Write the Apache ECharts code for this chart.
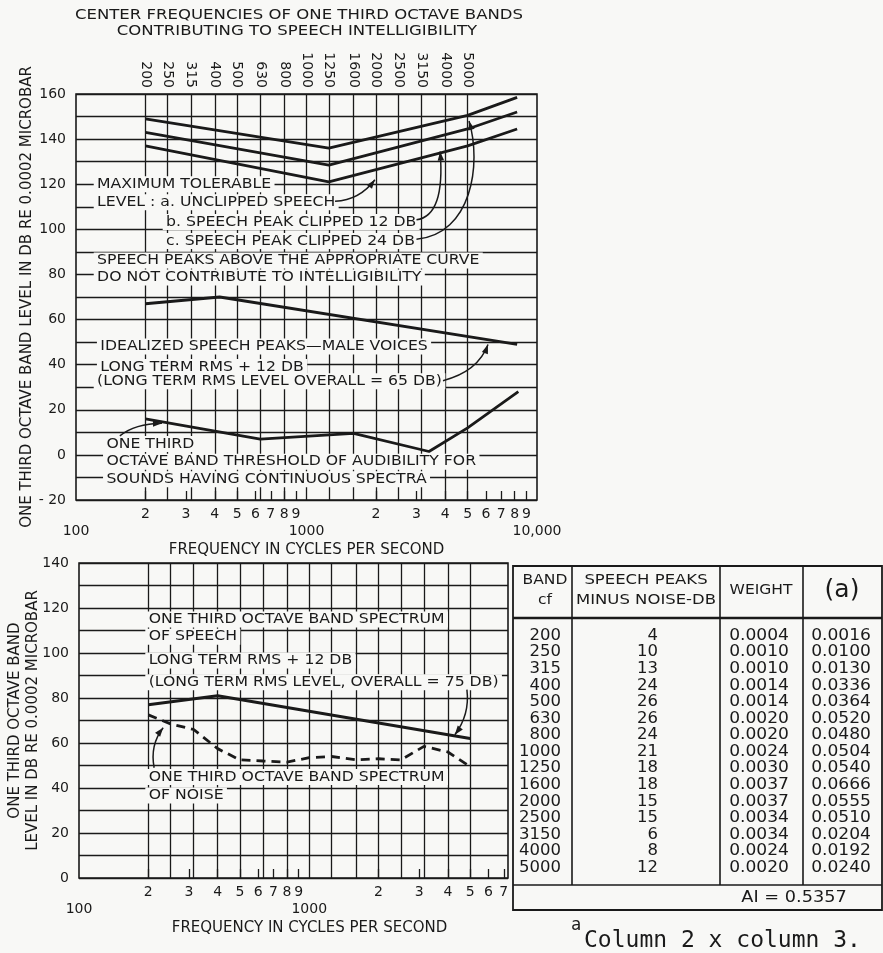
<!DOCTYPE html>
<html>
<head>
<meta charset="utf-8">
<script src="https://cdn.jsdelivr.net/npm/echarts@6/dist/echarts.min.js"></script>
<style>
html, body { margin: 0; padding: 0; background: #f8f8f6; }
#chart { width: 883px; height: 953px; }
</style>
</head>
<body>
<div id="chart"></div>
<script>
// one third octave band centres (Hz)
var bands = [200, 250, 315, 400, 500, 630, 800, 1000, 1250, 1600, 2000, 2500, 3150, 4000, 5000];
var bandLabels = ['200', '250', '315', '400', '500', '630', '800', '1000', '1250', '1600', '2000', '2500', '3150', '4000', '5000'];

// upper chart: [freq, dB]
var maxLevelA = [[200, 149], [1250, 136], [5000, 150.5], [8200, 158.5]];
var maxLevelB = [[200, 143], [1250, 128.5], [5000, 144.5], [8200, 152]];
var maxLevelC = [[200, 137], [1250, 121], [5000, 137], [8200, 144.5]];
var speechPeaksMale = [[200, 67], [420, 70], [8200, 49]];
var threshold = [[200, 16], [630, 7], [1600, 9.5], [3400, 1.5], [5000, 12], [8300, 28]];

// lower chart
var speechFreq = [200, 400, 5000];
var speechDb = [77, 81, 62];
var noiseDb = [72.5, 68.5, 66, 57.5, 52.5, 52, 51.5, 53.5, 54, 52.5, 53, 52.5, 58.5, 56, 49.5];

// table
var tableDiff = [4, 10, 13, 24, 26, 26, 24, 21, 18, 18, 15, 15, 6, 8, 12];
var tableWeight = [0.0004, 0.0010, 0.0010, 0.0014, 0.0014, 0.0020, 0.0020, 0.0024, 0.0030, 0.0037, 0.0037, 0.0034, 0.0034, 0.0024, 0.0020];
var tableProduct = [0.0016, 0.0100, 0.0130, 0.0336, 0.0364, 0.0520, 0.0480, 0.0504, 0.0540, 0.0666, 0.0555, 0.0510, 0.0204, 0.0192, 0.0240];
var aiTotal = '0.5357';

// tick marks
var minorTop = [200, 300, 400, 500, 600, 700, 800, 900, 2000, 3000, 4000, 5000, 6000, 7000, 8000, 9000];
var minorBottom = [200, 300, 400, 500, 600, 700, 800, 900, 2000, 3000, 4000, 5000, 6000, 7000];
var decadeLabels = { 100: '100', 1000: '1000', 10000: '10,000' };

var FONT = '"DejaVu Sans", sans-serif';
var INK = '#1a1a1a';
var BG = '#f8f8f6';
var WIDE = 1.12;   // lettering is wider than the font

var lg = function (f) { return Math.log10(f); };
var freqOf = function (v) { return Math.round(Math.pow(10, v)); };

function minorAxis(grid, ticks, max) {
    var vals = ticks.map(lg);
    return {
        type: 'value', gridIndex: grid, position: 'bottom', min: 2, max: max,
        axisLine: { show: false, onZero: false },
        axisTick: { show: true, inside: true, length: 9, customValues: vals, lineStyle: { color: INK, width: 1.3 } },
        axisLabel: {
            customValues: vals, margin: 7, fontSize: 14, color: INK, fontFamily: FONT,
            formatter: function (v) {
                return String(Math.round(Math.pow(10, v) / Math.pow(10, Math.floor(v + 1e-9))));
            }
        },
        splitLine: { show: false }
    };
}

function decadeAxis(grid, decades, max, namePad) {
    return {
        type: 'value', gridIndex: grid, position: 'bottom', min: 2, max: max,
        axisLine: { show: false, onZero: false },
        axisTick: { show: false },
        axisLabel: {
            customValues: decades.map(lg), margin: 24, fontSize: 14, color: INK, fontFamily: FONT,
            formatter: function (v) { return decadeLabels[freqOf(v)]; }
        },
        splitLine: { show: false },
        name: 'FREQUENCY IN CYCLES PER SECOND', nameLocation: 'middle', nameGap: 43, nameMoveOverlap: false,
        nameTextStyle: { fontSize: 15, color: INK, fontFamily: FONT, padding: [0, 0, 0, namePad] }
    };
}

function bandAxis(grid, max, showLabels) {
    var vals = bands.map(lg);
    return {
        type: 'value', gridIndex: grid, position: 'top', min: 2, max: max,
        axisLine: { show: false, onZero: false },
        axisTick: { show: false, customValues: vals },
        axisLabel: {
            show: showLabels, customValues: vals, rotate: 90, margin: 6, fontSize: 14, color: INK, fontFamily: FONT,
            formatter: function (v) { return bandLabels[bands.indexOf(freqOf(v))]; }
        },
        splitLine: { show: true, lineStyle: { color: INK, width: 1.3 } }
    };
}

function levelAxis(grid, min, max, name, gap) {
    return {
        type: 'value', gridIndex: grid, min: min, max: max, interval: 10,
        axisLine: { show: false, onZero: false },
        axisTick: { show: false },
        axisLabel: {
            margin: 10, fontSize: 14, color: INK, fontFamily: FONT,
            formatter: function (v) { return v % 20 === 0 ? (v < 0 ? '- ' + (-v) : String(v)) : ''; }
        },
        splitLine: { show: true, lineStyle: { color: INK, width: 1.3 } },
        name: name, nameLocation: 'middle', nameRotate: 90, nameGap: gap, nameMoveOverlap: false,
        nameTextStyle: { fontSize: 15, color: INK, fontFamily: FONT, lineHeight: 18 }
    };
}

function curve(name, pairs, xi, yi, dashed) {
    return {
        name: name, type: 'line', xAxisIndex: xi, yAxisIndex: yi, silent: true,
        data: pairs.map(function (p) { return [lg(p[0]), p[1]]; }),
        showSymbol: false, symbol: 'none', z: 20,
        lineStyle: { color: INK, width: 2.8, type: dashed ? [9, 6] : 'solid' }
    };
}

var bottomMax = lg(7300);

var chart = echarts.init(document.getElementById('chart'));
chart.setOption({
    backgroundColor: BG,
    animation: false,
    textStyle: { fontFamily: FONT, color: INK },
    grid: [
        { left: 76, top: 94, width: 461, height: 406, show: true, borderColor: INK, borderWidth: 1.6, backgroundColor: 'transparent' },
        { left: 79, top: 563, width: 429, height: 315, show: true, borderColor: INK, borderWidth: 1.6, backgroundColor: 'transparent' }
    ],
    xAxis: [
        minorAxis(0, minorTop, 4),
        decadeAxis(0, [100, 1000, 10000], 4, 0),
        bandAxis(0, 4, true),
        minorAxis(1, minorBottom, bottomMax),
        decadeAxis(1, [100, 1000], bottomMax, 32),
        bandAxis(1, bottomMax, false)
    ],
    yAxis: [
        levelAxis(0, -20, 160, 'ONE THIRD OCTAVE BAND LEVEL IN DB RE 0.0002 MICROBAR', 40),
        levelAxis(1, 0, 140, 'ONE THIRD OCTAVE BAND\nLEVEL IN DB RE 0.0002 MICROBAR', 37)
    ],
    series: [
        curve('a', maxLevelA, 0, 0),
        curve('b', maxLevelB, 0, 0),
        curve('c', maxLevelC, 0, 0),
        curve('speech peaks', speechPeaksMale, 0, 0),
        curve('threshold', threshold, 0, 0),
        curve('speech', speechFreq.map(function (f, i) { return [f, speechDb[i]]; }), 3, 1),
        curve('noise', bands.map(function (f, i) { return [f, noiseDb[i]]; }), 3, 1, true)
    ]
});

// annotations, placed in data coordinates
var topNotes = [
    ['MAXIMUM TOLERABLE', 123, 120],
    ['LEVEL : a. UNCLIPPED SPEECH', 123, 112],
    ['b. SPEECH PEAK CLIPPED 12 DB', 245, 103.2],
    ['c. SPEECH PEAK CLIPPED 24 DB', 245, 94.8],
    ['SPEECH PEAKS ABOVE THE APPROPRIATE CURVE', 123, 86.2],
    ['DO NOT CONTRIBUTE TO INTELLIGIBILITY', 123, 78.7],
    ['IDEALIZED SPEECH PEAKS\u2014MALE VOICES', 127, 48],
    ['LONG TERM RMS + 12 DB', 127, 39],
    ['(LONG TERM RMS LEVEL OVERALL = 65 DB)', 123, 32.6],
    ['ONE THIRD', 135, 4.8],
    ['OCTAVE BAND THRESHOLD OF AUDIBILITY FOR', 135, -3],
    ['SOUNDS HAVING CONTINUOUS SPECTRA', 135, -10.8]
];
var bottomNotes = [
    ['ONE THIRD OCTAVE BAND SPECTRUM', 200, 114.9],
    ['OF SPEECH', 200, 107.2],
    ['LONG TERM RMS + 12 DB', 200, 96.7],
    ['(LONG TERM RMS LEVEL, OVERALL = 75 DB)', 200, 87],
    ['ONE THIRD OCTAVE BAND SPECTRUM', 200, 44.9],
    ['OF NOISE', 200, 36.7]
];
var arrows = [
    [0, [[1330, 112.4], [1700, 113], [1980, 122]]],
    [0, [[3000, 104.2], [4000, 106], [3800, 134.5]]],
    [0, [[3000, 95.6], [5200, 97.8], [5770, 128.9], [5070, 148]]],
    [0, [[3910, 32.9], [5546, 36.9], [6130, 48.9]]],
    [0, [[155, 8.4], [180, 13.8], [236, 14]]],
    [1, [[4840, 83.7], [4990, 72.6], [4290, 63.7]]],
    [1, [[212, 49], [203, 59.2], [232, 66.8]]]
];

function px(grid, f, db) {
    var finder = grid === 0 ? { xAxisIndex: 0, yAxisIndex: 0 } : { xAxisIndex: 3, yAxisIndex: 1 };
    return chart.convertToPixel(finder, [lg(f), db]);
}

function label(text, x, y, font, align, bg, sx) {
    return {
        type: 'text', x: x, y: y, z: 10, silent: true, scaleX: sx || 1,
        style: {
            text: text, font: font, fill: INK,
            align: align, textAlign: align, verticalAlign: 'middle', textVerticalAlign: 'middle',
            backgroundColor: bg ? BG : null, padding: bg ? [1, 3] : 0
        }
    };
}

function arrow(grid, pts) {
    var p = pts.map(function (q) { return px(grid, q[0], q[1]); });
    var n = p.length;
    var shape = { x1: p[0][0], y1: p[0][1], x2: p[n - 1][0], y2: p[n - 1][1], cpx1: p[1][0], cpy1: p[1][1] };
    if (n === 4) { shape.cpx2 = p[2][0]; shape.cpy2 = p[2][1]; }
    var tip = p[n - 1], from = p[n - 2];
    var dx = tip[0] - from[0], dy = tip[1] - from[1];
    var d = Math.sqrt(dx * dx + dy * dy) || 1;
    dx /= d; dy /= d;
    var len = 9, w = 3.2;
    return [
        { type: 'bezierCurve', z: 30, silent: true, shape: shape, style: { stroke: INK, lineWidth: 1.5, fill: 'none' } },
        { type: 'polygon', z: 30, silent: true, shape: { points: [
            [tip[0], tip[1]],
            [tip[0] - dx * len - dy * w, tip[1] - dy * len + dx * w],
            [tip[0] - dx * len + dy * w, tip[1] - dy * len - dx * w]
        ] }, style: { fill: INK } }
    ];
}

function hline(x1, x2, y, w) {
    return { type: 'line', z: 10, silent: true, shape: { x1: x1, y1: y, x2: x2, y2: y }, style: { stroke: INK, lineWidth: w } };
}
function vline(x, y1, y2, w) {
    return { type: 'line', z: 10, silent: true, shape: { x1: x, y1: y1, x2: x, y2: y2 }, style: { stroke: INK, lineWidth: w } };
}

var els = [];
var noteFont = '14px ' + FONT;

// heading over the upper chart
els.push(label('CENTER FREQUENCIES OF ONE THIRD OCTAVE BANDS', 299, 15, '14.5px ' + FONT, 'center', false, 1.14));
els.push(label('CONTRIBUTING TO SPEECH INTELLIGIBILITY', 297, 31, '14.5px ' + FONT, 'center', false, 1.14));

topNotes.forEach(function (n) {
    var p = px(0, n[1], n[2]);
    els.push(label(n[0], p[0] - 3, p[1], noteFont, 'left', true, WIDE));
});
bottomNotes.forEach(function (n) {
    var p = px(1, n[1], n[2]);
    els.push(label(n[0], p[0] - 3, p[1], noteFont, 'left', true, WIDE));
});
arrows.forEach(function (a) { els = els.concat(arrow(a[0], a[1])); });

// table
var tl = 513, tr = 882, tt = 566, th = 618, td = 885, tb = 910;
var colSep = [572, 720, 803];
els.push({ type: 'rect', z: 10, silent: true, shape: { x: tl, y: tt, width: tr - tl, height: tb - tt }, style: { fill: BG, stroke: INK, lineWidth: 1.8 } });
els.push(hline(tl, tr, th, 2.4));
els.push(hline(tl, tr, td, 1.6));
colSep.forEach(function (x) { els.push(vline(x, tt, td, 1.6)); });

var headFont = '13.5px ' + FONT;
els.push(label('BAND', 545, 580, headFont, 'center', false, 1.15));
els.push(label('cf', 545, 600, headFont, 'center', false, 1.15));
els.push(label('SPEECH PEAKS', 646, 580, headFont, 'center', false, 1.22));
els.push(label('MINUS NOISE-DB', 646, 600, headFont, 'center', false, 1.22));
els.push(label('WEIGHT', 761, 590, headFont, 'center', false, 1.15));
els.push(label('(a)', 842, 590, '25px ' + FONT, 'center'));

var cellFont = '15px ' + FONT;
bands.forEach(function (b, i) {
    var y = 636 + i * 16.57;
    els.push(label(String(b), 561, y, cellFont, 'right', false, 1.1));
    els.push(label(String(tableDiff[i]), 658, y, cellFont, 'right', false, 1.1));
    els.push(label(tableWeight[i].toFixed(4), 789, y, cellFont, 'right', false, 1.14));
    els.push(label(tableProduct[i].toFixed(4), 871, y, cellFont, 'right', false, 1.14));
});
els.push(label('AI = ' + aiTotal, 794, 898, cellFont, 'center', false, 1.18));
els.push(label('a', 571, 926, '17px "DejaVu Sans Mono", monospace', 'left'));
els.push(label('Column 2 x column 3.', 584, 941, '23px "DejaVu Sans Mono", monospace', 'left'));

chart.setOption({ graphic: { elements: els } });
</script>
</body>
</html>
